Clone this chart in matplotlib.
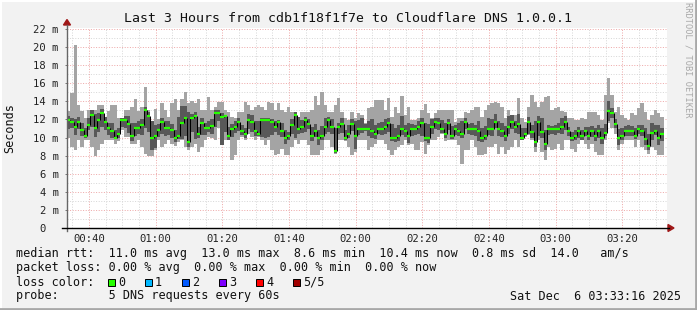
import numpy as np
import matplotlib
matplotlib.use("Agg")
import matplotlib.pyplot as plt
from matplotlib.lines import Line2D
from matplotlib.patches import Polygon, Rectangle

# ---------------- data (ms), one sample per minute, 5 pings each ----------------
start_min = 33.4  # 00:33:24, minutes after midnight

ping_min = [
    9.9, 9.0, 8.6, 9.7, 9.0, 9.7, 9.7, 9.0, 8.0, 8.6, 9.3, 9.7, 9.7, 9.7, 9.3, 9.6, 10.8, 10.1, 10.1, 9.3,
    9.3, 9.7, 9.0, 8.2, 8.0, 8.0, 8.6, 9.7, 9.0, 9.3, 9.7, 9.3, 9.1, 9.5, 9.7, 9.0, 8.6, 9.0, 9.3, 8.4,
    9.0, 9.7, 10.1, 9.9, 9.7,
    11.0, 9.15, 9.7, 9.7, 7.48, 8.04, 9.7, 10.07, 9.7, 10.44, 10.07, 9.7, 10.07, 9.7, 9.15, 9.7, 8.59, 8.04, 8.22, 8.78,
    8.04, 8.04, 8.96, 9.7, 9.33, 9.7, 9.7, 9.15, 8.04, 8.04, 8.04, 8.59, 9.7, 9.7, 8.96, 8.22, 9.7, 9.7, 9.7, 8.96,
    8.04, 8.41, 9.7, 9.7, 9.7,
    8.59, 8.96, 9.33, 9.7, 9.7, 9.33, 8.59, 8.04, 8.59, 8.96, 9.15, 9.7, 9.15, 9.33, 8.59, 8.59, 9.52, 8.22, 9.15, 9.7,
    9.7, 10.07, 10.44, 9.6, 9.7, 9.7, 9.7, 9.15, 7.11, 8.59, 8.59, 9.7, 8.96, 8.04, 8.04, 8.22, 8.96, 8.96, 9.33, 8.22,
    8.96, 8.22, 8.59, 8.96, 9.7,
    8.96, 9.7, 10.07, 10.26, 9.7, 8.41, 9.7, 8.41, 7.48, 8.96, 8.59, 8.78, 9.33, 8.59, 9.7, 9.7, 8.78, 8.41, 9.33, 9.7,
    9.33, 8.78, 9.33, 8.41, 8.04, 8.04, 9.7, 11.56, 11.0, 10.44, 8.59, 9.33, 9.7, 9.7, 9.7, 8.96, 9.7, 8.96, 8.59, 8.22,
    8.96, 8.59, 8.04, 8.04,
]

ping_low = [
    10.9, 11.0, 10.3, 10.9, 10.2, 9.9, 10.8, 11.2, 10.1, 10.6, 11.2, 10.8, 10.3, 9.9, 9.9, 9.9, 11.2, 11.0, 10.5, 9.6,
    10.2, 10.4, 10.3, 11.0, 10.6, 8.6, 8.8, 10.1, 10.4, 10.2, 10.3, 10.0, 9.5, 9.8, 9.8, 10.2, 8.9, 10.6, 9.8, 10.0,
    10.3, 10.3, 10.6, 10.4, 11.2,
    11.8, 9.2, 10.6, 9.7, 10.1, 10.5, 10.7, 10.3, 9.9, 10.9, 10.6, 10.2, 10.15, 10.1, 10.0, 10.1, 10.3, 10.6, 10.3, 10.1,
    9.3, 9.7, 10.4, 10.0, 10.4, 10.5, 10.6, 10.9, 9.6, 10.1, 9.2, 9.7, 10.4, 10.6, 10.4, 8.3, 10.4, 10.5, 9.6, 9.9,
    10.7, 8.7, 10.3, 10.5, 10.7,
    10.2, 10.0, 9.8, 10.4, 10.3, 10.4, 10.6, 9.6, 9.5, 9.6, 10.3, 10.1, 9.4, 10.2, 10.3, 10.4, 10.2, 9.6, 9.4, 10.4,
    10.9, 10.8, 10.5, 9.9, 10.8, 9.8, 10.3, 10.2, 9.9, 10.9, 10.4, 10.3, 10.2, 9.6, 9.5, 9.7, 10.3, 10.2, 11.0, 10.2,
    10.1, 9.6, 10.4, 10.9, 10.5,
    10.4, 9.7, 10.2, 10.4, 9.9, 8.9, 10.2, 9.9, 8.6, 10.3, 10.4, 10.3, 10.5, 10.4, 10.8, 10.2, 9.6, 9.7, 10.0, 9.7,
    10.2, 9.7, 10.1, 9.6, 9.9, 9.3, 10.2, 11.8, 12.2, 11.0, 9.2, 9.7, 10.2, 10.2, 10.2, 9.8, 10.4, 10.2, 9.2, 8.6,
    9.7, 10.3, 9.2, 9.6,
]

median = [
    11.9, 11.7, 11.2, 11.7, 10.8, 10.2, 11.4, 12.5, 11.0, 11.9, 12.7, 11.7, 11.0, 10.7, 9.9, 10.4, 11.9, 11.9, 11.5, 10.2,
    11.0, 11.0, 11.4, 13.0, 12.4, 9.9, 10.2, 10.8, 11.7, 11.0, 11.0, 10.8, 9.9, 10.2, 11.6, 12.2, 9.5, 12.2, 12.4, 10.4,
    11.6, 11.0, 11.0, 11.3, 12.7,
    12.74, 12.22, 12.37, 10.15, 10.96, 11.11, 11.74, 10.74, 10.37, 11.93, 11.74, 10.74, 10.37, 11.93, 11.93, 11.93, 11.74, 11.19, 11.74, 10.74,
    9.93, 10.15, 11.41, 12.52, 10.96, 11.19, 11.93, 11.48, 10.15, 10.74, 9.93, 10.15, 11.19, 11.93, 11.19, 8.52, 11.19, 11.48, 9.93, 10.37,
    11.48, 10.15, 10.96, 10.96, 10.96,
    10.96, 10.74, 10.37, 10.96, 10.96, 11.19, 11.56, 9.93, 9.93, 10.15, 10.96, 10.74, 10.15, 10.96, 10.96, 11.19, 11.56, 9.93, 9.93, 11.19,
    11.74, 11.56, 10.96, 10.37, 11.56, 10.15, 10.96, 10.74, 10.37, 11.74, 10.96, 10.96, 10.96, 10.74, 9.93, 10.15, 10.96, 10.96, 11.74, 10.96,
    10.74, 10.15, 11.19, 11.74, 11.19,
    11.48, 9.93, 10.37, 11.74, 10.59, 9.52, 11.74, 10.59, 9.33, 10.96, 10.96, 10.96, 10.96, 11.19, 11.74, 10.74, 9.93, 10.15, 10.74, 10.15,
    10.74, 10.15, 10.74, 10.15, 10.74, 9.93, 10.52, 12.96, 12.74, 11.48, 9.93, 10.15, 10.74, 10.74, 10.74, 10.15, 10.96, 10.74, 9.78, 9.11,
    10.52, 10.74, 9.93, 10.37,
]

ping_high = [
    12.4, 12.2, 12.0, 12.3, 11.6, 11.0, 12.2, 13.0, 12.6, 12.7, 13.1, 12.3, 11.6, 11.6, 10.8, 11.0, 12.2, 12.4, 12.4, 11.6,
    11.6, 11.8, 12.0, 13.4, 12.8, 11.8, 11.4, 11.5, 12.2, 11.8, 11.8, 11.5, 10.8, 12.3, 13.5, 13.5, 12.8, 12.6, 12.8, 11.2,
    12.1, 11.6, 11.8, 12.0, 13.0,
    13.0, 12.7, 12.5, 11.2, 11.5, 11.8, 12.2, 11.4, 11.0, 12.6, 12.5, 11.8, 11.8, 12.1, 12.1, 12.1, 12.0, 11.8, 11.9, 11.6,
    10.8, 10.6, 12.0, 12.8, 12.3, 11.9, 12.3, 12.0, 11.2, 11.5, 10.8, 11.3, 12.1, 12.3, 12.0, 11.1, 11.6, 12.1, 10.8, 11.4,
    12.0, 11.8, 11.9, 12.2, 11.5,
    11.8, 12.0, 11.4, 11.6, 11.7, 12.0, 12.2, 11.5, 11.0, 11.4, 12.4, 11.4, 11.6, 11.5, 11.4, 11.8, 12.1, 11.6, 11.5, 12.0,
    12.2, 12.2, 11.9, 11.6, 12.0, 11.3, 11.4, 11.6, 11.8, 12.1, 11.5, 11.6, 11.4, 11.8, 11.1, 11.3, 12.1, 12.0, 12.6, 11.8,
    11.6, 11.3, 12.4, 12.5, 11.8,
    12.6, 11.0, 11.0, 12.3, 11.4, 11.8, 12.4, 12.1, 10.8, 11.4, 11.3, 11.4, 11.6, 12.2, 12.4, 11.2, 10.6, 10.8, 11.2, 10.8,
    11.2, 11.2, 11.3, 11.1, 11.4, 11.1, 11.5, 14.0, 13.3, 12.0, 10.9, 11.1, 11.3, 11.4, 11.3, 11.0, 11.4, 11.4, 11.0, 10.4,
    11.6, 11.4, 11.4, 11.0,
]

ping_max = [
    12.9, 14.9, 20.2, 13.6, 12.9, 12.1, 13.0, 13.0, 13.0, 13.6, 13.6, 12.3, 12.9, 13.6, 13.6, 12.1, 12.1, 13.0, 13.0, 13.4,
    14.3, 12.9, 13.4, 15.6, 13.0, 11.8, 13.2, 12.0, 13.8, 13.0, 12.3, 13.8, 14.2, 13.0, 14.3, 15.0, 13.8, 14.0, 13.8, 14.3,
    13.0, 13.0, 14.5, 13.0, 13.4,
    13.96, 13.96, 13.04, 12.85, 12.3, 12.11, 12.85, 12.85, 13.96, 13.59, 13.04, 13.41, 13.59, 13.41, 13.04, 13.96, 13.78, 13.04, 13.78, 13.04,
    12.85, 13.41, 12.85, 12.85, 12.3, 12.85, 12.85, 12.85, 13.04, 14.59, 13.59, 15.07, 13.59, 12.85, 12.85, 13.59, 14.33, 12.85, 12.11, 11.93,
    12.85, 12.11, 12.67, 12.48, 11.56,
    13.22, 13.41, 14.15, 14.15, 14.15, 13.04, 14.33, 12.3, 13.41, 12.67, 14.59, 12.48, 13.41, 11.93, 11.93, 12.11, 13.04, 13.7, 12.67, 12.11,
    12.67, 13.04, 13.04, 13.04, 13.04, 13.04, 11.74, 12.11, 12.11, 12.85, 12.67, 13.04, 13.41, 13.41, 12.3, 13.04, 13.59, 13.78, 13.96, 13.78,
    13.41, 12.11, 13.04, 12.48, 12.48,
    14.33, 12.11, 11.74, 13.41, 14.7, 13.96, 13.41, 13.96, 14.52, 14.59, 13.04, 13.22, 13.41, 12.96, 12.85, 12.11, 12.11, 11.93, 11.93, 12.11,
    12.0, 12.85, 12.85, 12.85, 12.48, 11.93, 14.7, 16.56, 14.7, 12.85, 13.41, 12.48, 12.11, 11.93, 12.67, 12.48, 13.22, 13.78, 12.85, 11.93,
    12.48, 13.04, 12.67, 12.3,
]

y_ticks = [0, 2, 4, 6, 8, 10, 12, 14, 16, 18, 20, 22]
y_tick_labels = ["0  ", "2 m", "4 m", "6 m", "8 m", "10 m", "12 m", "14 m", "16 m", "18 m", "20 m", "22 m"]
x_ticks = [40, 60, 80, 100, 120, 140, 160, 180, 200]
x_tick_labels = ["00:40", "01:00", "01:20", "01:40", "02:00", "02:20", "02:40", "03:00", "03:20"]
loss_labels = ["0", "1", "2", "3", "4", "5/5"]
loss_colors = ["#26ff00", "#00b8ff", "#0059ff", "#7e00ff", "#ff0000", "#a10000"]

# ---------------- figure ----------------
W, H = 697, 310
MONO = "DejaVu Sans Mono"
fig = plt.figure(figsize=(W / 100, H / 100), dpi=100)
fig.patch.set_facecolor("#f2f2f2")

def fx(x):
    return x / W

def fy(y):
    return 1 - y / H

ax = fig.add_axes([fx(67), fy(228), 600 / W, 200 / H])
ax.set_facecolor("white")
ax.set_xlim(start_min, start_min + 180)
ax.set_ylim(0, 22.1)

# grid (behind data), dotted
dash = (0, (1, 1.6))
gkw = dict(lw=0.72, ls=dash, zorder=1)
for v in range(1, 23, 2):
    ax.axhline(v, color="#d8d8d8", **gkw)
for v in range(2, 23, 2):
    ax.axhline(v, color="#eeaaaa", **gkw)
for m in range(35, 214, 5):
    if m % 20:
        ax.axvline(m, color="#d8d8d8", **gkw)
for m in x_ticks:
    ax.axvline(m, color="#eeaaaa", **gkw)

data = np.sort(np.array([ping_min, ping_low, median, ping_high, ping_max], dtype=float), axis=0)
p1, p2, med, p4, p5 = data
n = len(med)
xs = start_min + np.arange(n)

ax.bar(xs, p5 - p1, bottom=p1, width=1.0, align="edge", color="#a4a4a4", linewidth=0, zorder=2)
ax.bar(xs, p4 - p2, bottom=p2, width=1.0, align="edge", color="#585858", linewidth=0, zorder=3)
ax.vlines(xs[1:], med[:-1], med[1:], color="black", lw=0.75, zorder=4)
ax.hlines(med, xs, xs + 1, color=loss_colors[0], lw=1.6, zorder=5)

for s in ax.spines.values():
    s.set_visible(False)
ax.set_yticks(y_ticks)
ax.set_yticklabels(y_tick_labels, fontfamily=MONO, fontsize=7.6, color="#222222")
ax.set_xticks(x_ticks)
ax.set_xticklabels(x_tick_labels, fontfamily=MONO, fontsize=7.6, color="#222222")
ax.tick_params(axis="y", length=1.5, width=0.7, color="#777777", pad=4.5)
ax.tick_params(axis="x", length=0, pad=4.5)

# axes lines and arrows
fig.add_artist(Line2D([fx(67), fx(67)], [fy(231), fy(25)], color="#666666", lw=1.0))
fig.add_artist(Line2D([fx(62), fx(669)], [fy(228), fy(228)], color="black", lw=1.0))
fig.add_artist(Polygon([[fx(63.5), fy(25)], [fx(70.5), fy(25)], [fx(67), fy(19.5)]],
                       closed=True, color="#a01818", transform=fig.transFigure))
fig.add_artist(Polygon([[fx(668), fy(224.5)], [fx(668), fy(231.5)], [fx(674), fy(228)]],
                       closed=True, color="#a01818", transform=fig.transFigure))

# texts
fig.text(fx(348), fy(19), "Last 3 Hours from cdb1f18f1f7e to Cloudflare DNS 1.0.0.1",
         fontfamily=MONO, fontsize=9.5, ha="center", va="center", color="#111111")
fig.text(fx(10), fy(128), "Seconds", fontfamily=MONO, fontsize=8.5, rotation=90,
         ha="center", va="center", color="#111111")
fig.text(fx(688), fy(60), "RRDTOOL / TOBI OETIKER", fontfamily=MONO, fontsize=6.2, rotation=270,
         ha="center", va="center", color="#a8a8a8")

leg = dict(fontfamily=MONO, fontsize=8.5, ha="left", va="center", color="#111111")
fig.text(fx(16), fy(254), "median rtt:  11.0 ms avg  13.0 ms max  8.6 ms min  10.4 ms now  0.8 ms sd  14.0   am/s", **leg)
fig.text(fx(16), fy(268), "packet loss: 0.00 % avg  0.00 % max  0.00 % min  0.00 % now", **leg)
fig.text(fx(16), fy(282), "loss color:", **leg)
fig.text(fx(16), fy(296), "probe:       5 DNS requests every 60s", **leg)
fig.text(fx(681), fy(296), "Sat Dec  6 03:33:16 2025", fontfamily=MONO, fontsize=8.5,
         ha="right", va="center", color="#111111")

box_x = [108, 145, 182, 219, 256, 293]
for bx, col, lab in zip(box_x, loss_colors, loss_labels):
    fig.add_artist(Rectangle((fx(bx), fy(286)), 7 / W, 7 / H, facecolor=col, edgecolor="black",
                             lw=0.7, transform=fig.transFigure))
    fig.text(fx(bx + 10), fy(282), lab, **leg)

# frame
fig.add_artist(Line2D([0, 1], [fy(0.5), fy(0.5)], color="#ffffff", lw=1.5))
fig.add_artist(Line2D([fx(0.5), fx(0.5)], [0, 1], color="#ffffff", lw=1.5))
fig.add_artist(Line2D([0, 1], [fy(309), fy(309)], color="#a8a8a8", lw=2))
fig.add_artist(Line2D([fx(696), fx(696)], [0, 1], color="#a8a8a8", lw=2))

fig.savefig("out.png", dpi=100, facecolor=fig.get_facecolor())
